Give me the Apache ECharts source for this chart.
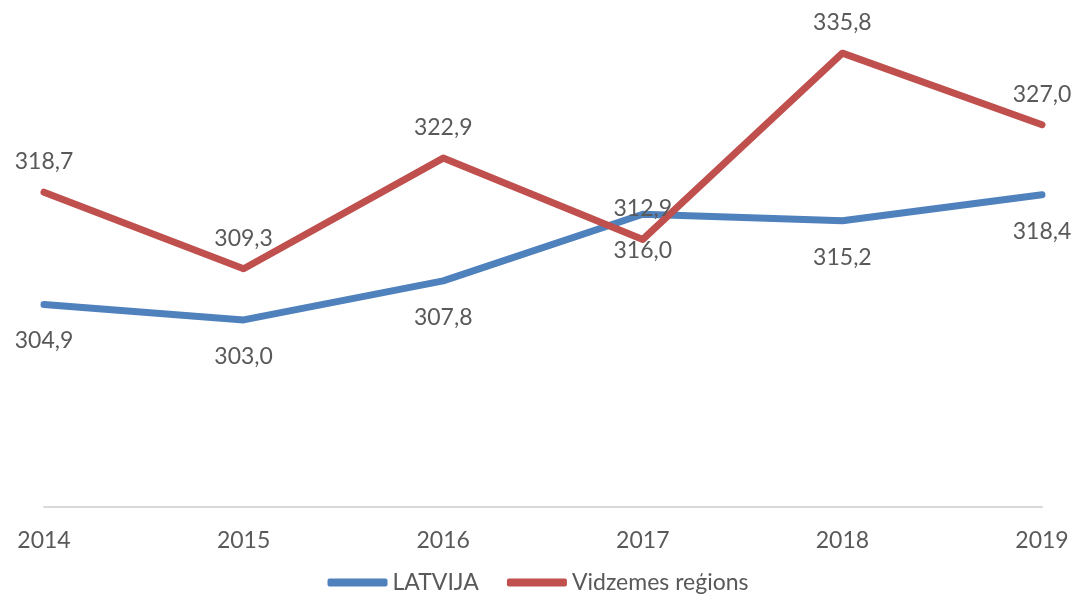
<!DOCTYPE html>
<html>
<head>
<meta charset="utf-8">
<script src="https://cdn.jsdelivr.net/npm/echarts@6/dist/echarts.min.js"></script>
<style>
  html, body { margin: 0; padding: 0; background: #fff; }
  #main { width: 1076px; height: 597px; }
</style>
</head>
<body>
<div id="main"></div>
<script>
var years = ['2014', '2015', '2016', '2017', '2018', '2019'];
var latvija = [304.9, 303.0, 307.8, 316.0, 315.2, 318.4];
var vidzeme = [318.7, 309.3, 322.9, 312.9, 335.8, 327.0];
var seriesNames = ['LATVIJA', 'Vidzemes reģions'];

var textColor = '#595959';
var fontFam = 'Lato, "Liberation Sans", sans-serif';

function fmt(p) {
	return p.value.toFixed(1).replace('.', ',');
}

var chart = echarts.init(document.getElementById('main'));

var option = {
	animation: false,
	grid: { left: 44, right: 34, top: 19, bottom: 90 },
	legend: {
		data: seriesNames,
		left: 'center',
		top: 566,
		itemWidth: 60,
		itemHeight: 8,
		itemGap: 28,
		icon: 'roundRect',
		textStyle: { color: textColor, fontSize: 23, fontFamily: fontFam }
	},
	xAxis: {
		type: 'category',
		data: years,
		boundaryGap: false,
		axisLine: { lineStyle: { color: '#D9D9D9', width: 2 } },
		axisTick: { show: false },
		axisLabel: { color: textColor, fontSize: 23, fontFamily: fontFam, margin: 22 }
	},
	yAxis: {
		type: 'value',
		min: 280,
		max: 340,
		show: false,
		splitLine: { show: false }
	},
	series: [
		{
			name: seriesNames[0],
			type: 'line',
			data: latvija,
			symbol: 'circle',
			symbolSize: 0.01,
			showSymbol: true,
			color: '#4F81BD',
			lineStyle: { width: 7, cap: 'round', join: 'round' },
			labelLayout: { hideOverlap: false },
			label: {
				show: true, position: 'bottom', distance: 25,
				color: textColor, fontSize: 23, fontFamily: fontFam,
				formatter: fmt
			}
		},
		{
			name: seriesNames[1],
			type: 'line',
			data: vidzeme,
			symbol: 'circle',
			symbolSize: 0.01,
			showSymbol: true,
			color: '#C0504D',
			lineStyle: { width: 7, cap: 'round', join: 'round' },
			labelLayout: { hideOverlap: false },
			label: {
				show: true, position: 'top', distance: 19,
				color: textColor, fontSize: 23, fontFamily: fontFam,
				formatter: fmt
			}
		}
	]
};

chart.setOption(option);
</script>
</body>
</html>
